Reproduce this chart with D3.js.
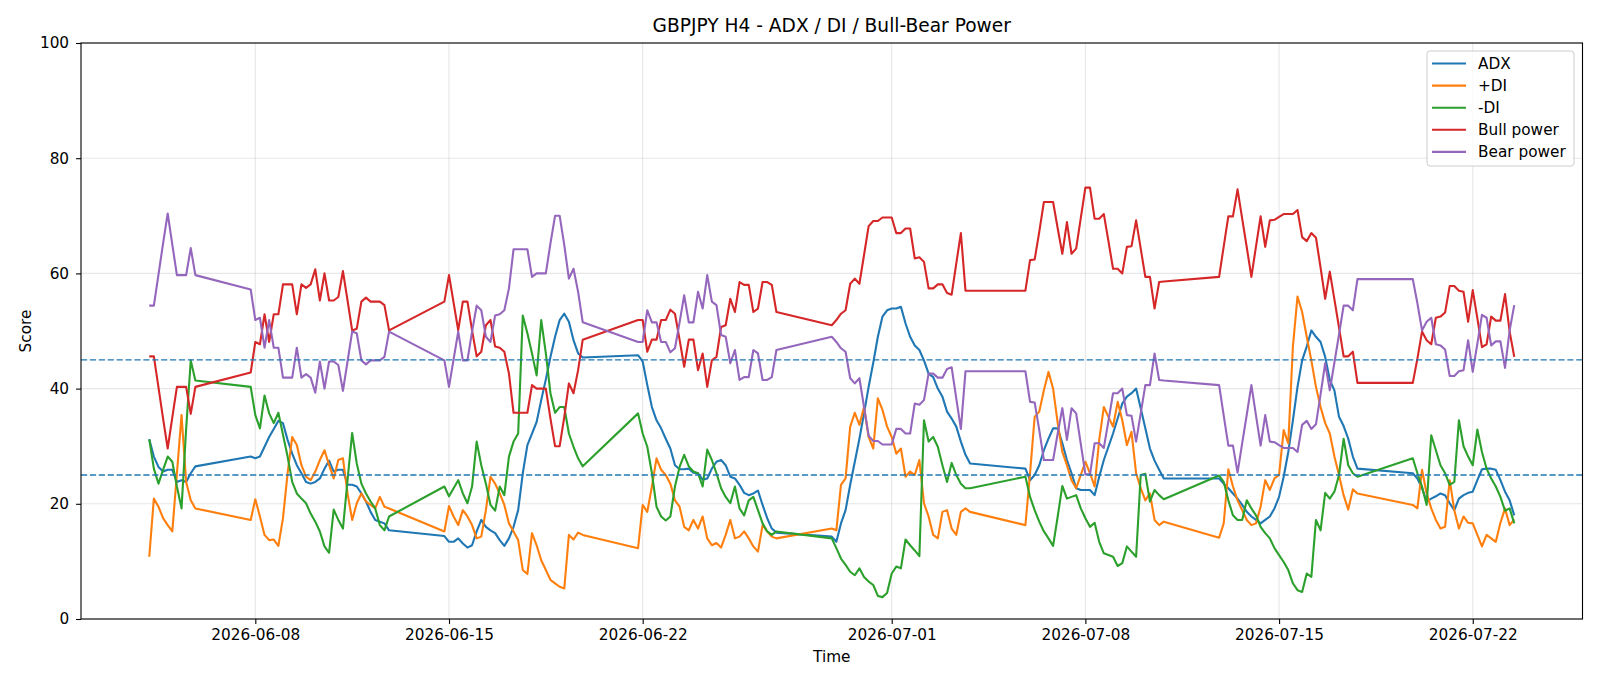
<!DOCTYPE html>
<html>
<head>
<meta charset="utf-8">
<script src="https://cdn.jsdelivr.net/npm/d3@7"></script>
<style>
  body { margin: 0; background: #fff; }
  svg { font-family: "DejaVu Sans", sans-serif; }
</style>
</head>
<body>
<svg id="chart" width="1600" height="686"></svg>
<script>
// H4 bar times (trading hours only, weekend gaps are real gaps in the data)
const times = [
  "2026-06-04 04","2026-06-04 08","2026-06-04 12","2026-06-04 16","2026-06-04 20",
  "2026-06-05 00","2026-06-05 04","2026-06-05 08","2026-06-05 12","2026-06-05 16","2026-06-05 20",
  "2026-06-07 20",
  "2026-06-08 00","2026-06-08 04","2026-06-08 08","2026-06-08 12","2026-06-08 16","2026-06-08 20",
  "2026-06-09 00","2026-06-09 04","2026-06-09 08","2026-06-09 12","2026-06-09 16","2026-06-09 20",
  "2026-06-10 00","2026-06-10 04","2026-06-10 08","2026-06-10 12","2026-06-10 16","2026-06-10 20",
  "2026-06-11 00","2026-06-11 04","2026-06-11 08","2026-06-11 12","2026-06-11 16","2026-06-11 20",
  "2026-06-12 00","2026-06-12 04","2026-06-12 08","2026-06-12 12","2026-06-12 16","2026-06-12 20",
  "2026-06-14 20",
  "2026-06-15 00","2026-06-15 04","2026-06-15 08","2026-06-15 12","2026-06-15 16","2026-06-15 20",
  "2026-06-16 00","2026-06-16 04","2026-06-16 08","2026-06-16 12","2026-06-16 16","2026-06-16 20",
  "2026-06-17 00","2026-06-17 04","2026-06-17 08","2026-06-17 12","2026-06-17 16","2026-06-17 20",
  "2026-06-18 00","2026-06-18 04","2026-06-18 08","2026-06-18 12","2026-06-18 16","2026-06-18 20",
  "2026-06-19 00","2026-06-19 04","2026-06-19 08","2026-06-19 12","2026-06-19 16","2026-06-19 20",
  "2026-06-21 20",
  "2026-06-22 00","2026-06-22 04","2026-06-22 08","2026-06-22 12","2026-06-22 16","2026-06-22 20",
  "2026-06-23 00","2026-06-23 04","2026-06-23 08","2026-06-23 12","2026-06-23 16","2026-06-23 20",
  "2026-06-24 00","2026-06-24 04","2026-06-24 08","2026-06-24 12","2026-06-24 16","2026-06-24 20",
  "2026-06-25 00","2026-06-25 04","2026-06-25 08","2026-06-25 12","2026-06-25 16","2026-06-25 20",
  "2026-06-26 00","2026-06-26 04","2026-06-26 08","2026-06-26 12","2026-06-26 16","2026-06-26 20",
  "2026-06-28 20",
  "2026-06-29 00","2026-06-29 04","2026-06-29 08","2026-06-29 12","2026-06-29 16","2026-06-29 20",
  "2026-06-30 00","2026-06-30 04","2026-06-30 08","2026-06-30 12","2026-06-30 16","2026-06-30 20",
  "2026-07-01 00","2026-07-01 04","2026-07-01 08","2026-07-01 12","2026-07-01 16","2026-07-01 20",
  "2026-07-02 00","2026-07-02 04","2026-07-02 08","2026-07-02 12","2026-07-02 16","2026-07-02 20",
  "2026-07-03 00","2026-07-03 04","2026-07-03 08","2026-07-03 12","2026-07-03 16","2026-07-03 20",
  "2026-07-05 20",
  "2026-07-06 00","2026-07-06 04","2026-07-06 08","2026-07-06 12","2026-07-06 16","2026-07-06 20",
  "2026-07-07 00","2026-07-07 04","2026-07-07 08","2026-07-07 12","2026-07-07 16","2026-07-07 20",
  "2026-07-08 00","2026-07-08 04","2026-07-08 08","2026-07-08 12","2026-07-08 16","2026-07-08 20",
  "2026-07-09 00","2026-07-09 04","2026-07-09 08","2026-07-09 12","2026-07-09 16","2026-07-09 20",
  "2026-07-10 00","2026-07-10 04","2026-07-10 08","2026-07-10 12","2026-07-10 16","2026-07-10 20",
  "2026-07-12 20",
  "2026-07-13 00","2026-07-13 04","2026-07-13 08","2026-07-13 12","2026-07-13 16","2026-07-13 20",
  "2026-07-14 00","2026-07-14 04","2026-07-14 08","2026-07-14 12","2026-07-14 16","2026-07-14 20",
  "2026-07-15 00","2026-07-15 04","2026-07-15 08","2026-07-15 12","2026-07-15 16","2026-07-15 20",
  "2026-07-16 00","2026-07-16 04","2026-07-16 08","2026-07-16 12","2026-07-16 16","2026-07-16 20",
  "2026-07-17 00","2026-07-17 04","2026-07-17 08","2026-07-17 12","2026-07-17 16","2026-07-17 20",
  "2026-07-19 20",
  "2026-07-20 00","2026-07-20 04","2026-07-20 08","2026-07-20 12","2026-07-20 16","2026-07-20 20",
  "2026-07-21 00","2026-07-21 04","2026-07-21 08","2026-07-21 12","2026-07-21 16","2026-07-21 20",
  "2026-07-22 00","2026-07-22 04","2026-07-22 08","2026-07-22 12","2026-07-22 16","2026-07-22 20",
  "2026-07-23 00","2026-07-23 04","2026-07-23 08","2026-07-23 12"
];

// one line per trading week
const adx = [
  31.2,28.2,26.4,25.6,25.9,25.9,23.8,24.1,23.8,25.3,26.5,
  28.2,27.9,28.2,29.9,31.6,33.0,34.4,34.0,31.1,28.7,26.7,25.3,23.8,23.5,23.8,24.4,26.1,27.5,25.6,25.9,25.9,23.3,23.3,23.0,21.8,20.4,18.6,17.2,16.9,16.6,15.4,
  14.4,13.4,13.4,14.0,13.1,12.4,12.8,15.2,17.2,16.0,15.4,14.9,13.7,12.7,14.0,16.0,18.9,25.3,30.2,32.2,34.2,38.0,41.6,45.5,49.0,51.9,53.0,51.6,48.4,46.1,45.4,
  45.8,44.7,40.6,36.8,34.5,33.1,31.3,29.6,26.7,26.0,26.0,26.1,25.4,25.3,24.2,24.4,26.1,27.3,27.6,26.7,24.7,24.4,23.3,21.9,21.5,21.8,22.3,19.8,17.5,15.7,15.0,
  14.3,13.4,16.6,18.9,23.3,27.3,31.3,35.7,40.3,44.5,49.0,52.5,53.6,53.9,53.9,54.2,51.3,49.0,47.5,46.7,44.9,42.6,42.0,40.0,38.6,36.0,34.8,33.4,30.8,28.5,27.0,
  26.1,24.1,25.0,26.7,29.3,31.3,33.1,33.1,30.5,27.6,25.3,22.7,22.4,22.4,22.4,21.5,24.7,27.6,29.9,32.2,34.8,37.4,38.6,39.2,40.0,36.6,33.1,29.6,27.5,25.9,24.4,
  24.4,23.5,22.7,21.8,20.9,19.8,18.6,17.8,17.2,16.6,17.2,17.8,19.2,21.2,24.7,29.0,34.5,40.3,44.9,47.3,50.1,49.0,48.1,45.5,41.5,39.7,35.1,33.5,31.3,28.2,26.1,
  25.3,24.4,22.7,20.4,20.9,21.3,21.8,21.5,20.1,18.9,20.9,21.5,21.9,22.1,24.1,26.0,26.1,26.1,25.9,24.1,22.1,20.6,18.0
];
const plusDI = [
  10.8,20.9,19.5,17.5,16.3,15.2,25.3,35.4,23.8,20.6,19.2,
  17.2,20.8,17.8,14.6,13.7,13.8,12.7,17.5,25.3,31.6,30.2,26.7,24.7,24.1,25.6,27.6,29.3,26.7,24.4,27.6,27.9,21.8,17.2,20.1,21.8,20.4,19.8,19.2,21.2,19.5,19.2,
  15.2,19.6,17.8,16.3,18.9,17.8,16.3,14.0,14.3,18.9,24.7,23.5,21.8,19.8,16.6,15.2,13.7,8.5,7.8,14.9,12.8,10.2,8.5,6.8,6.2,5.6,5.3,14.6,13.8,15.0,14.6,
  12.3,19.8,18.6,23.0,27.9,25.9,25.0,23.5,20.6,19.5,16.0,15.4,17.2,15.7,17.8,14.0,12.8,13.2,12.4,14.6,17.2,14.0,14.3,15.2,14.0,12.6,11.7,16.3,15.2,14.3,14.0,
  15.7,15.4,23.3,24.4,33.4,35.8,33.7,36.8,31.6,29.6,38.3,36.3,33.4,31.6,28.7,29.6,24.7,25.6,25.0,27.6,20.1,17.8,14.6,14.0,18.6,18.9,15.7,14.6,18.6,19.2,18.6,
  16.3,25.3,35.1,36.0,39.7,42.9,40.0,34.0,29.0,26.7,24.1,22.7,25.0,27.3,25.3,23.0,31.1,36.8,35.1,33.4,37.7,34.5,30.2,32.5,25.3,22.7,20.6,21.8,17.2,16.3,16.9,
  14.1,16.6,26.0,23.0,20.6,18.9,17.2,16.3,16.6,19.5,24.1,22.4,24.4,25.0,32.8,30.5,47.3,56.0,53.3,49.0,44.9,40.3,36.8,34.0,32.2,28.2,25.0,21.5,19.0,22.5,21.8,
  19.8,19.2,25.9,21.8,19.2,17.2,15.7,16.0,24.1,18.9,15.7,17.8,16.7,16.6,14.6,12.6,14.6,14.0,13.4,16.7,19.2,16.3,17.3
];
const minusDI = [
  31.2,26.1,23.5,25.9,28.2,27.3,23.0,19.2,33.0,44.9,41.4,
  40.3,35.4,33.1,38.8,35.7,34.0,35.8,32.0,28.2,23.8,21.8,20.9,20.1,18.3,16.9,15.2,12.6,11.5,19.0,17.2,15.7,24.1,32.3,27.0,23.5,21.8,20.4,19.2,16.3,15.4,17.8,
  23.0,21.3,22.7,24.1,21.8,20.1,23.0,30.8,26.7,23.5,19.8,18.8,23.0,21.5,28.2,30.8,32.2,52.7,49.6,46.1,42.3,51.9,46.1,39.2,35.8,36.8,36.8,32.2,29.9,27.9,26.5,
  35.7,32.2,29.9,25.3,19.5,17.8,17.1,17.8,23.0,26.4,28.5,26.5,25.6,25.3,23.0,29.4,27.6,25.3,22.7,21.2,20.1,23.0,19.2,18.0,20.6,21.2,18.9,16.6,15.2,14.6,15.2,
  14.0,12.3,10.5,9.4,8.2,7.6,8.8,7.3,6.5,5.9,4.0,3.8,4.5,7.9,9.1,8.8,13.8,12.8,11.9,10.9,34.5,30.8,31.6,29.9,26.7,23.8,27.1,25.0,23.5,22.7,22.7,
  24.7,21.2,18.9,16.9,15.2,14.0,12.7,17.8,23.1,20.9,21.2,21.5,19.2,17.5,16.0,16.7,13.4,11.4,11.1,10.8,9.2,9.7,12.6,11.7,10.8,25.0,25.2,20.4,22.4,21.5,20.8,
  24.9,23.8,20.6,18.0,17.2,17.2,20.6,19.2,18.0,16.0,14.9,14.0,12.3,11.1,9.9,8.5,6.2,5.0,4.7,7.9,7.3,17.2,15.4,21.9,20.9,22.1,25.0,31.3,26.7,25.3,24.7,
  27.9,25.3,23.0,19.8,31.9,29.3,26.7,25.3,23.3,23.8,34.5,30.0,28.2,26.7,32.9,29.0,26.1,24.4,23.0,21.2,18.8,19.2,16.6
];
const bullPower = [
  45.6,45.6,40.2,34.8,29.6,35.0,40.3,40.3,40.3,35.6,40.3,
  42.8,48.1,47.7,52.9,48.1,52.9,52.9,58.1,58.1,58.1,52.9,58.1,57.5,58.1,60.7,55.3,60.0,55.3,55.3,55.9,60.4,55.3,50.1,50.4,55.1,55.8,55.1,55.1,55.1,54.5,50.1,
  55.1,59.7,54.9,50.1,55.1,55.1,50.1,45.6,46.4,51.0,51.9,47.3,47.1,46.4,42.6,35.8,35.8,35.8,35.8,40.6,40.0,40.0,40.0,34.8,30.0,30.0,35.1,40.9,39.2,43.2,48.5,
  51.9,51.9,46.4,48.5,48.5,51.9,51.9,53.7,53.0,48.5,43.8,48.5,48.5,43.2,46.1,40.3,44.9,45.5,50.7,51.0,55.6,53.3,58.5,58.0,58.0,53.3,53.9,58.5,58.5,58.0,53.3,
  51.0,51.9,53.0,53.6,58.2,59.1,58.2,63.2,68.2,69.1,69.1,69.7,69.7,69.7,67.0,67.0,67.8,67.8,62.6,62.8,62.0,57.4,57.4,58.1,58.1,56.6,56.3,61.7,67.0,57.0,57.0,
  57.0,62.3,62.4,67.2,72.4,72.4,72.4,67.8,63.4,68.9,63.4,64.3,69.6,74.9,74.9,69.5,69.5,70.3,65.6,60.8,60.8,60.0,64.6,64.7,69.2,64.3,59.4,59.4,53.9,58.5,58.6,
  59.4,64.7,69.9,69.9,74.6,69.5,64.5,59.4,64.7,69.9,64.6,69.2,69.3,69.8,70.3,70.3,70.3,71.0,66.3,65.6,67.0,66.2,61.0,55.6,60.3,55.5,50.6,45.6,45.6,46.4,41.0,
  41.0,45.2,49.9,48.4,47.7,52.3,52.5,53.2,57.8,57.8,57.0,56.8,51.6,57.1,52.2,47.2,47.7,52.5,51.8,51.8,56.4,49.9,45.5
];
const bearPower = [
  54.4,54.4,59.8,65.2,70.4,65.0,59.7,59.7,59.7,64.4,59.7,
  57.2,51.9,52.3,47.1,51.9,47.1,47.1,41.9,41.9,41.9,47.1,41.9,42.5,41.9,39.3,44.7,40.0,44.7,44.7,44.1,39.6,44.7,49.9,49.6,44.9,44.2,44.9,44.9,44.9,45.5,49.9,
  44.9,40.3,45.1,49.9,44.9,44.9,49.9,54.4,53.6,49.0,48.1,52.7,52.9,53.6,57.4,64.2,64.2,64.2,64.2,59.4,60.0,60.0,60.0,65.2,70.0,70.0,64.9,59.1,60.8,56.8,51.5,
  48.1,48.1,53.6,51.5,51.5,48.1,48.1,46.3,47.0,51.5,56.2,51.5,51.5,56.8,53.9,59.7,55.1,54.5,49.3,49.0,44.4,46.7,41.5,42.0,42.0,46.7,46.1,41.5,41.5,42.0,46.7,
  49.0,48.1,47.0,46.4,41.8,40.9,41.8,36.8,31.8,30.9,30.9,30.3,30.3,30.3,33.0,33.0,32.2,32.2,37.4,37.2,38.0,42.6,42.6,41.9,41.9,43.4,43.7,38.3,33.0,43.0,43.0,
  43.0,37.7,37.6,32.8,27.6,27.6,27.6,32.2,36.6,31.1,36.6,35.7,30.4,25.1,25.1,30.5,30.5,29.7,34.4,39.2,39.2,40.0,35.4,35.3,30.8,35.7,40.6,40.6,46.1,41.5,41.4,
  40.6,35.3,30.1,30.1,25.4,30.5,35.5,40.6,35.3,30.1,35.4,30.8,30.7,30.2,29.7,29.7,29.7,29.0,33.7,34.4,33.0,33.8,39.0,44.4,39.7,44.5,49.4,54.4,54.4,53.6,59.0,
  59.0,54.8,50.1,51.6,52.3,47.7,47.5,46.8,42.2,42.2,43.0,43.2,48.4,42.9,47.8,52.8,52.3,47.5,48.2,48.2,43.6,50.1,54.5
];

const seriesNames = ["ADX", "+DI", "-DI", "Bull power", "Bear power"];
const seriesColors = ["#1f77b4", "#ff7f0e", "#2ca02c", "#d62728", "#9467bd"];
const xTickLabels = ["2026-06-08", "2026-06-15", "2026-06-22", "2026-07-01", "2026-07-08", "2026-07-15", "2026-07-22"];
const yTickValues = [0, 20, 40, 60, 80, 100];
const refLevels = [25, 45];

const W = 1600, H = 686;
const margin = {top: 43, right: 17.5, bottom: 67, left: 81};
const iw = W - margin.left - margin.right;
const ih = H - margin.top - margin.bottom;
const fontSm = "15.3px", fontLg = "18.6px";

const parseT = d3.utcParse("%Y-%m-%d %H");
const parseD = d3.utcParse("%Y-%m-%d");
const t = times.map(parseT);

// matplotlib style 5% padding on the time axis
const t0 = t[0], t1 = t[t.length - 1];
const pad = (t1 - t0) * 0.05;
const x = d3.scaleUtc()
  .domain([new Date(+t0 - pad), new Date(+t1 + pad)])
  .range([0, iw]);
const y = d3.scaleLinear().domain([0, 100]).range([ih, 0]);

const svg = d3.select("#chart");
const g = svg.append("g").attr("transform", "translate(" + margin.left + "," + margin.top + ")");

// grid
g.append("g").selectAll("line").data(xTickLabels.map(parseD)).enter().append("line")
  .attr("x1", d => x(d)).attr("x2", d => x(d))
  .attr("y1", 0).attr("y2", ih)
  .attr("stroke", "#b0b0b0").attr("stroke-opacity", 0.3).attr("stroke-width", 1.1);
g.append("g").selectAll("line").data(yTickValues).enter().append("line")
  .attr("x1", 0).attr("x2", iw)
  .attr("y1", d => y(d)).attr("y2", d => y(d))
  .attr("stroke", "#b0b0b0").attr("stroke-opacity", 0.3).attr("stroke-width", 1.1);

// series
const allSeries = [adx, plusDI, minusDI, bullPower, bearPower];
const line = d3.line().x(d => x(d[0])).y(d => y(d[1]));
allSeries.forEach(function(vals, i) {
  g.append("path")
    .datum(vals.map((v, j) => [t[j], v]))
    .attr("d", line)
    .attr("fill", "none")
    .attr("stroke", seriesColors[i])
    .attr("stroke-width", 2.1)
    .attr("stroke-linejoin", "round");
});

// reference levels
g.append("g").selectAll("line").data(refLevels).enter().append("line")
  .attr("x1", 0).attr("x2", iw)
  .attr("y1", d => y(d)).attr("y2", d => y(d))
  .attr("stroke", "#1f77b4").attr("stroke-width", 1.3)
  .attr("stroke-dasharray", "6.2,2.7");

// axes
const xAxis = d3.axisBottom(x)
  .tickValues(xTickLabels.map(parseD))
  .tickFormat(d3.utcFormat("%Y-%m-%d"))
  .tickSize(4.9).tickPadding(5);
const yAxis = d3.axisLeft(y)
  .tickValues(yTickValues)
  .tickSize(4.9).tickPadding(7);

const gx = g.append("g").attr("transform", "translate(0," + ih + ")").call(xAxis);
const gy = g.append("g").call(yAxis);
[gx, gy].forEach(function(a) {
  a.select(".domain").remove();
  a.selectAll(".tick line").attr("stroke", "#000").attr("stroke-width", 1.1);
  a.selectAll(".tick text").attr("fill", "#000").style("font-size", fontSm)
    .style("font-family", "DejaVu Sans");
});

// frame
g.append("rect").attr("x", 0).attr("y", 0).attr("width", iw).attr("height", ih)
  .attr("fill", "none").attr("stroke", "#000").attr("stroke-width", 1.1);

// titles
svg.append("text").attr("x", margin.left + iw / 2).attr("y", 32)
  .attr("text-anchor", "middle").style("font-size", fontLg).attr("fill", "#000")
  .text("GBPJPY H4 - ADX / DI / Bull-Bear Power");
svg.append("text").attr("x", margin.left + iw / 2).attr("y", 662)
  .attr("text-anchor", "middle").style("font-size", fontSm).attr("fill", "#000")
  .text("Time");
svg.append("text")
  .attr("transform", "translate(31," + (margin.top + ih / 2) + ") rotate(-90)")
  .attr("text-anchor", "middle").style("font-size", fontSm).attr("fill", "#000")
  .text("Score");

// legend
const lg = svg.append("g").attr("transform", "translate(1427,51)");
lg.append("rect").attr("width", 147).attr("height", 115).attr("rx", 3)
  .attr("fill", "#fff").attr("fill-opacity", 0.8)
  .attr("stroke", "#cccccc").attr("stroke-width", 1);
seriesNames.forEach(function(name, i) {
  const yy = 12.5 + i * 22.1;
  lg.append("line").attr("x1", 5).attr("x2", 39).attr("y1", yy).attr("y2", yy)
    .attr("stroke", seriesColors[i]).attr("stroke-width", 2.1);
  lg.append("text").attr("x", 51).attr("y", yy).attr("dy", "0.35em")
    .style("font-size", fontSm).attr("fill", "#000").text(name);
});
</script>
</body>
</html>
